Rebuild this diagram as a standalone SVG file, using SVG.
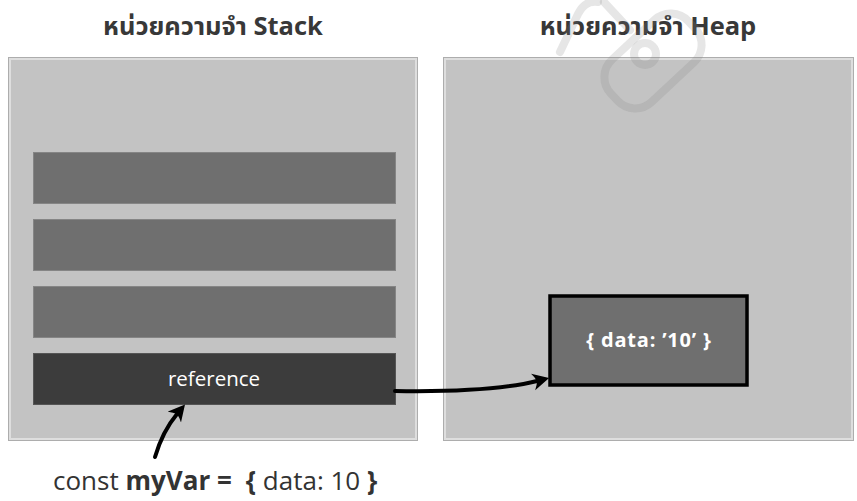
<svg xmlns="http://www.w3.org/2000/svg" width="857" height="501" viewBox="0 0 857 501">
  <style>
    .title { font-family: "Open Sans", "Noto Sans", "Noto Sans Thai", sans-serif; font-weight: 700; font-size: 25.5px; fill: #383838; text-anchor: middle; }
    .panel-edge { fill: none; stroke: #adadad; stroke-width: 1; }
    .panel { fill: #c3c3c3; stroke: #dedede; stroke-width: 2; }
    .slot { fill: #6f6f6f; stroke: #858585; stroke-width: 1; }
    .slot-ref { fill: #3c3c3c; stroke: #555555; stroke-width: 1; }
    .obj { fill: #6f6f6f; stroke: #000000; stroke-width: 3.5; }
    .label { font-family: "Open Sans", "Noto Sans", sans-serif; fill: #ffffff; text-anchor: middle; }
    .code { font-family: "Open Sans", "Noto Sans", sans-serif; font-size: 26px; fill: #333333; }
    .link { fill: none; stroke: #000000; stroke-width: 4; stroke-linecap: round; marker-end: url(#head); }
    .mark { fill: none; stroke: #808080; stroke-width: 8; stroke-opacity: 0.2; stroke-linecap: round; }
  </style>
  <defs>
    <marker id="head" markerUnits="userSpaceOnUse" markerWidth="17" markerHeight="18" viewBox="0 0 17 18" refX="4" refY="9" orient="auto">
      <path d="M16.5,9 L0,0.5 Q3,5 4,9 Q3,13 0,17.5 Z" fill="#000000"/>
    </marker>
  </defs>

  <rect width="857" height="501" fill="#ffffff"/>

  <!-- titles -->
  <text class="title" x="213" y="35">หน่วยความจำ Stack</text>
  <text class="title" x="648" y="35">หน่วยความจำ Heap</text>

  <!-- stack memory -->
  <g id="stack">
    <rect class="panel-edge" x="8.5" y="57.5" width="409" height="383"/>
    <rect class="panel" x="10" y="59" width="406" height="380"/>
  </g>
  <g id="slot1"><rect class="slot" x="33.5" y="152.5" width="362" height="51"/></g>
  <g id="slot2"><rect class="slot" x="33.5" y="219.5" width="362" height="51"/></g>
  <g id="slot3"><rect class="slot" x="33.5" y="286.5" width="362" height="51"/></g>
  <g id="slot-reference">
    <rect class="slot-ref" x="33.5" y="353.5" width="362" height="51"/>
    <text class="label" x="214" y="386" font-size="20.5">reference</text>
  </g>

  <!-- heap memory -->
  <g id="heap">
    <rect class="panel-edge" x="443.5" y="57.5" width="410" height="383"/>
    <rect class="panel" x="445" y="59" width="407" height="380"/>
  </g>
  <g id="heap-object">
    <rect class="obj" x="550" y="296" width="197" height="89"/>
    <text class="label" x="649" y="347" font-size="20" font-weight="700" letter-spacing="0.8">{ data: ’10’ }</text>
  </g>

  <!-- faint logo over the heap title -->
  <g id="logo">
    <path class="mark" d="M560,52 L578,14 Q585,0 598,2"/>
    <path class="mark" d="M604,2 L630,30"/>
    <rect class="mark" x="600" y="32" width="106" height="58" rx="24" transform="rotate(-43 653 61)"/>
    <circle class="mark" cx="645" cy="54" r="11"/>
  </g>

  <!-- declaration -->
  <g id="declaration">
    <text class="code" x="53" y="490">const <tspan font-weight="700">myVar =</tspan><tspan font-weight="700" dx="14">{</tspan> data: 10 <tspan font-weight="700">}</tspan></text>
  </g>

  <!-- connectors -->
  <g id="connectors">
    <path class="link" d="M395,391 C455,392 505,389 537,381"/>
    <path class="link" d="M155,457 C160,440 167,426 177,414"/>
  </g>
</svg>
